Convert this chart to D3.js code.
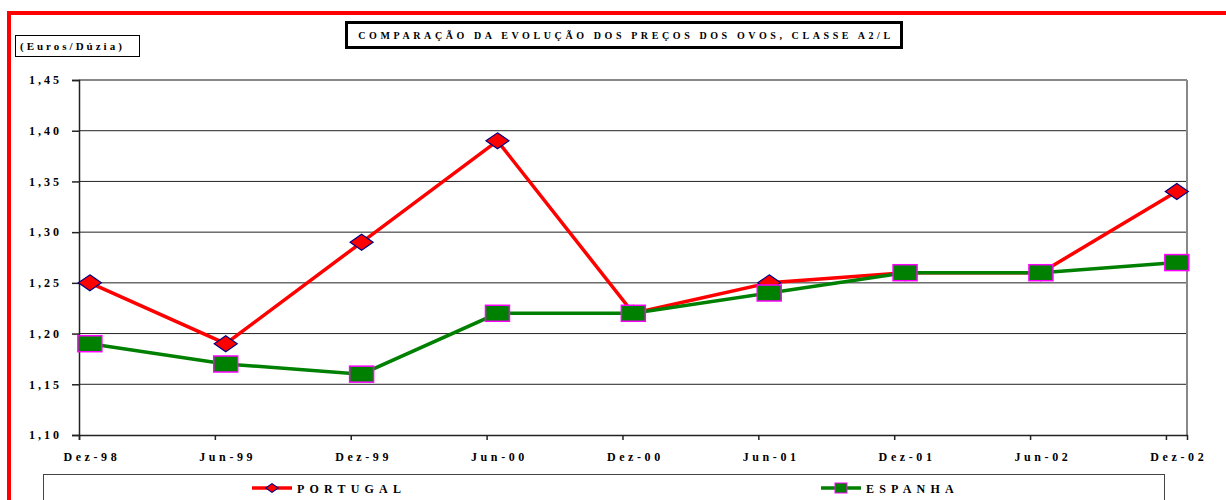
<!DOCTYPE html>
<html>
<head>
<meta charset="utf-8">
<script src="https://cdn.jsdelivr.net/npm/d3@7"></script>
<style>
  body { margin: 0; background: #fff; }
  text { font-family: "Liberation Serif", "Times New Roman", serif; font-weight: bold; fill: #000; }
</style>
</head>
<body>
<div id="chart"></div>
<script>
const periods = ['Dez-98', 'Jun-99', 'Dez-99', 'Jun-00', 'Dez-00', 'Jun-01', 'Dez-01', 'Jun-02', 'Dez-02']
const portugal = [1.25, 1.19, 1.29, 1.39, 1.22, 1.25, 1.26, 1.26, 1.34]
const espanha = [1.19, 1.17, 1.16, 1.22, 1.22, 1.24, 1.26, 1.26, 1.27]
const yTicks = [1.10, 1.15, 1.20, 1.25, 1.30, 1.35, 1.40, 1.45]

const w = 1226, h = 500
const plot = { left: 79, right: 1187, top: 80, bottom: 435 }
const pointShift = 0.08 // points sit a little right of each tick

const svg = d3.select('#chart').append('svg')
  .attr('width', w)
  .attr('height', h)

// red frame
svg.append('rect')
  .attr('x', 9).attr('y', 13)
  .attr('width', w + 20).attr('height', h + 20)
  .attr('fill', 'none')
  .attr('stroke', '#ff0000')
  .attr('stroke-width', 4)

let x = d3.scaleLinear()
  .domain([0, 8.155])
  .range([plot.left, plot.right])

let y = d3.scaleLinear()
  .domain([1.10, 1.45])
  .range([plot.bottom, plot.top])

const fmt = v => d3.format('.2f')(v).replace('.', ',')

// gridlines
svg.append('g')
  .selectAll('line')
  .data(yTicks.slice(1))
  .enter()
  .append('line')
  .attr('x1', plot.left).attr('x2', plot.right)
  .attr('y1', d => y(d)).attr('y2', d => y(d))
  .attr('stroke', d => d === 1.45 ? '#888' : '#222')
  .attr('stroke-width', d => d === 1.45 ? 2 : 1)

// right border
svg.append('line')
  .attr('x1', plot.right).attr('x2', plot.right)
  .attr('y1', plot.top).attr('y2', plot.bottom)
  .attr('stroke', '#888').attr('stroke-width', 2)

// y axis
let yAxis = svg.append('g')
  .attr('transform', `translate(${plot.left},0)`)
  .call(d3.axisLeft(y).tickValues(yTicks).tickSize(7).tickFormat(fmt))
yAxis.select('.domain').attr('stroke', '#222').attr('stroke-width', 1.5)
yAxis.selectAll('.tick line').attr('stroke', '#222').attr('stroke-width', 1.5)
yAxis.selectAll('.tick text')
  .attr('x', -17)
  .attr('font-size', 12)
  .style('letter-spacing', '3px')
  .style('font-family', '"Liberation Serif", serif')

// x axis
let xAxis = svg.append('g')
  .attr('transform', `translate(0,${plot.bottom})`)
  .call(d3.axisBottom(x).tickValues(d3.range(periods.length)).tickSize(5).tickFormat(''))
xAxis.select('.domain').attr('stroke', '#222').attr('stroke-width', 1.5)
xAxis.selectAll('.tick line').attr('stroke', '#222').attr('stroke-width', 1.5)

svg.append('g')
  .selectAll('text')
  .data(periods)
  .enter()
  .append('text')
  .attr('x', (d, i) => x(i + pointShift) + 2)
  .attr('y', 461)
  .attr('text-anchor', 'middle')
  .attr('font-size', 12)
  .style('letter-spacing', '3.6px')
  .text(d => d)

// lines and markers, Portugal first so Espanha sits on top
let line = d3.line()
  .x((d, i) => x(i + pointShift))
  .y(d => y(d))

const diamond = 'M0,-8L11.5,0L0,8L-11.5,0Z'

svg.append('path')
  .datum(portugal)
  .attr('d', line)
  .attr('fill', 'none')
  .attr('stroke', '#ff0000')
  .attr('stroke-width', 3.5)

svg.append('g')
  .selectAll('path')
  .data(portugal)
  .enter()
  .append('path')
  .attr('transform', (d, i) => `translate(${x(i + pointShift)},${y(d)})`)
  .attr('d', diamond)
  .attr('fill', '#ff0000')
  .attr('stroke', '#000080')
  .attr('stroke-width', 1.2)

svg.append('path')
  .datum(espanha)
  .attr('d', line)
  .attr('fill', 'none')
  .attr('stroke', '#008000')
  .attr('stroke-width', 3.5)

svg.append('g')
  .selectAll('rect')
  .data(espanha)
  .enter()
  .append('rect')
  .attr('x', (d, i) => x(i + pointShift) - 12)
  .attr('y', d => y(d) - 8)
  .attr('width', 24).attr('height', 16)
  .attr('fill', '#008000')
  .attr('stroke', '#ff00ff')
  .attr('stroke-width', 1.5)

// unit box
svg.append('rect')
  .attr('x', 15.5).attr('y', 35.5)
  .attr('width', 124).attr('height', 21)
  .attr('fill', '#fff').attr('stroke', '#000').attr('stroke-width', 1)
svg.append('text')
  .attr('x', 20).attr('y', 50)
  .attr('font-size', 11)
  .style('letter-spacing', '3px')
  .text('(Euros/Dúzia)')

// title box
svg.append('rect')
  .attr('x', 346.5).attr('y', 22.5)
  .attr('width', 555).attr('height', 25)
  .attr('fill', '#fff').attr('stroke', '#000').attr('stroke-width', 3)
svg.append('text')
  .attr('x', 626).attr('y', 39)
  .attr('text-anchor', 'middle')
  .attr('font-size', 10)
  .style('letter-spacing', '3.6px')
  .text('COMPARAÇÃO DA EVOLUÇÃO DOS PREÇOS DOS OVOS, CLASSE A2/L')

// legend
svg.append('rect')
  .attr('x', 43.5).attr('y', 474.5)
  .attr('width', 1121).attr('height', 40)
  .attr('fill', '#fff').attr('stroke', '#444').attr('stroke-width', 1)

const legendItems = [
  { name: 'PORTUGAL', x: 252, color: '#ff0000' },
  { name: 'ESPANHA', x: 821, color: '#008000' }
]
legendItems.forEach((item, i) => {
  let g = svg.append('g').attr('transform', `translate(${item.x},488)`)
  g.append('line')
    .attr('x1', 0).attr('x2', 40)
    .attr('stroke', item.color).attr('stroke-width', 3.5)
  if (i === 0) {
    g.append('path')
      .attr('transform', 'translate(20,0) scale(0.55)')
      .attr('d', diamond)
      .attr('fill', '#ff0000').attr('stroke', '#000080').attr('stroke-width', 2)
  } else {
    g.append('rect')
      .attr('x', 14).attr('y', -5).attr('width', 12).attr('height', 10)
      .attr('fill', '#008000').attr('stroke', '#ff00ff').attr('stroke-width', 1)
  }
  g.append('text')
    .attr('x', 45).attr('y', 4.5)
    .attr('font-size', 12)
    .style('letter-spacing', '5.2px')
    .text(item.name)
})
</script>
</body>
</html>
